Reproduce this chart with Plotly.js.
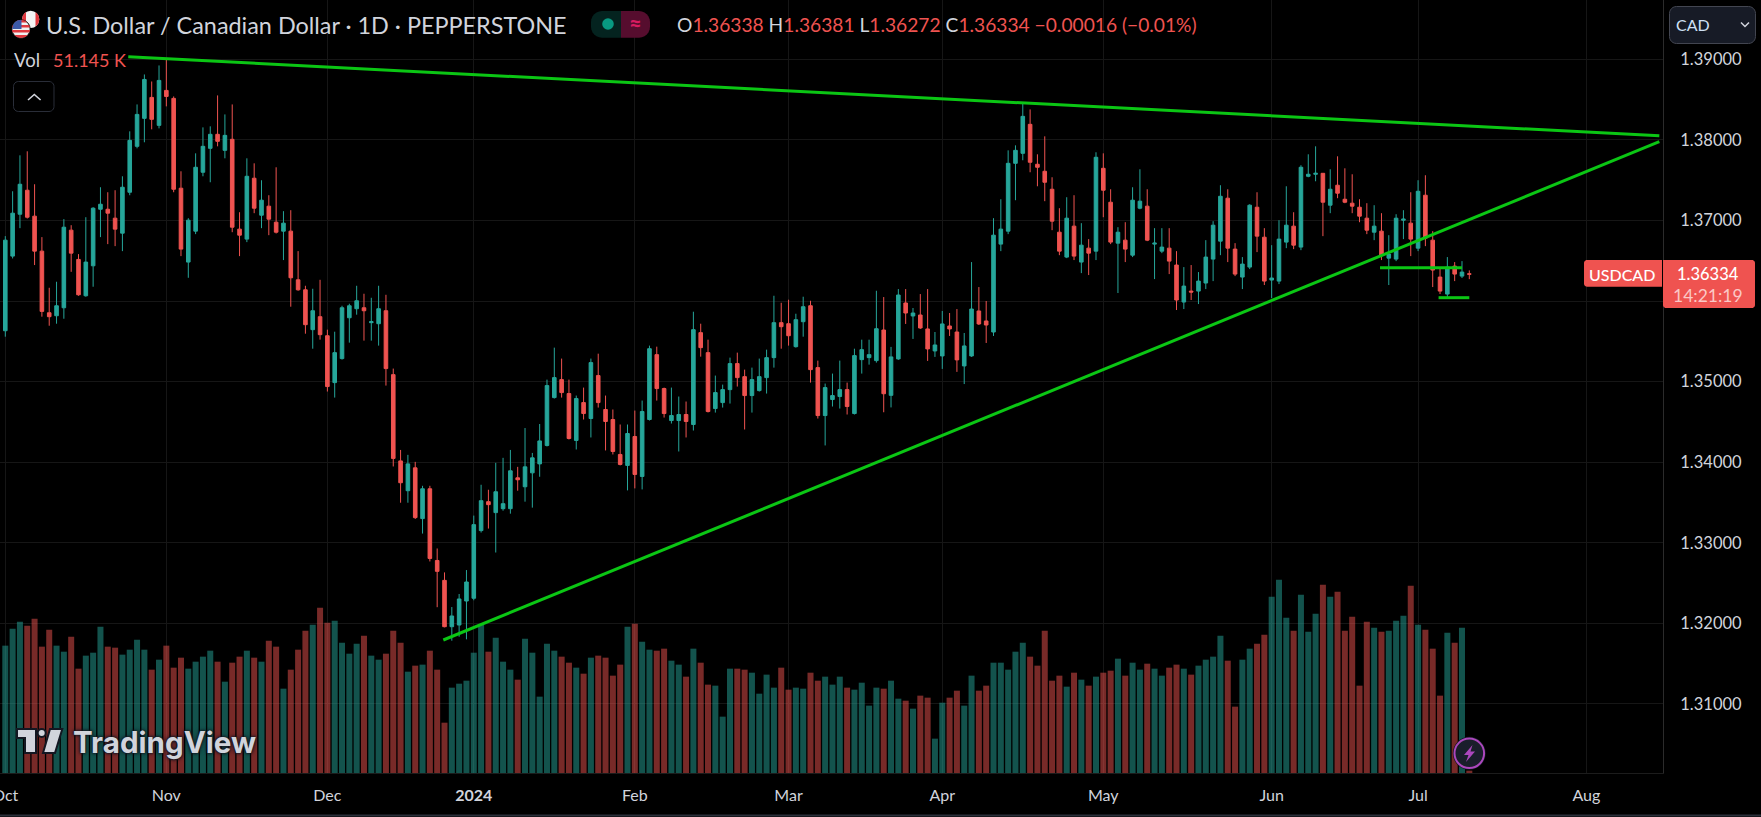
<!DOCTYPE html>
<html><head><meta charset="utf-8">
<script src="https://cdn.plot.ly/plotly-3.0.1.min.js"></script>
<style>html,body{margin:0;padding:0;background:#000;overflow:hidden}#c{width:1761px;height:817px}</style>
</head><body><div id="c"></div>
<script>
const opens=[1.35632,1.36558,1.37078,1.37376,1.37054,1.36620,1.35855,1.35818,1.35917,1.36880,
1.36517,1.36066,1.36438,1.37140,1.37140,1.37029,1.36843,1.37351,1.37921,1.38268,
1.38528,1.38181,1.38615,1.38516,1.37401,1.36484,1.36868,1.37599,1.37896,1.38070,
1.37871,1.38008,1.36893,1.36769,1.37525,1.37066,1.37178,1.36979,1.36868,1.36868,
1.36264,1.36140,1.35645,1.35806,1.35570,1.34988,1.35286,1.35793,1.35905,1.35917,
1.35732,1.35719,1.35880,1.35087,1.34016,1.33646,1.33930,1.33300,1.33670,1.32780,
1.32533,1.31958,1.31979,1.32277,1.32311,1.33151,1.33510,1.33374,1.33423,1.33423,
1.33806,1.33695,1.33868,1.33979,1.34208,1.34802,1.35025,1.34852,1.34270,1.34740,
1.34542,1.35075,1.34654,1.34530,1.34096,1.33960,1.34319,1.33823,1.34530,1.35335,
1.34914,1.34517,1.34517,1.34592,1.34468,1.35608,1.35360,1.34666,1.34740,1.34901,
1.35224,1.35062,1.34827,1.34889,1.35050,1.35298,1.35732,1.35719,1.35434,1.35744,
1.35942,1.35174,1.34579,1.34778,1.34815,1.34901,1.34604,1.35273,1.35298,1.35261,
1.35641,1.34830,1.35282,1.35976,1.35815,1.35827,1.35654,1.35381,1.35319,1.35691,
1.35616,1.35195,1.35319,1.35877,1.35753,1.35616,1.36707,1.36868,1.37710,1.37834,
1.38194,1.37698,1.37611,1.37388,1.36855,1.36546,1.36930,1.36484,1.36657,1.36620,
1.37648,1.37227,1.36719,1.36756,1.36570,1.37153,1.37178,1.36707,1.36620,1.36657,
1.36447,1.35988,1.36124,1.36124,1.36224,1.36521,1.36744,1.37277,1.36645,1.36298,
1.36422,1.37165,1.36793,1.36261,1.36248,1.36732,1.36930,1.36670,1.37549,1.37574,
1.37586,1.37190,1.37438,1.37264,1.37215,1.37165,1.37029,1.36855,1.36868,1.36533,
1.36521,1.37004,1.36967,1.36657,1.37314,1.36756,1.36298,1.36087,1.36434,1.36310,1.36338];
const highs=[1.36806,1.37363,1.37809,1.37859,1.37450,1.36794,1.36165,1.36240,1.37017,1.36942,
1.36583,1.37041,1.37165,1.37413,1.37351,1.37376,1.37549,1.38107,1.38441,1.38813,
1.38726,1.38925,1.38995,1.38540,1.37611,1.37029,1.37834,1.38156,1.38169,1.38553,
1.38317,1.38441,1.37103,1.37772,1.37710,1.37500,1.37314,1.37661,1.37116,1.37128,
1.36620,1.36190,1.36153,1.36264,1.35645,1.35620,1.35942,1.35967,1.36190,1.36091,
1.36041,1.36190,1.36078,1.35162,1.34152,1.34091,1.34004,1.33707,1.33707,1.32929,
1.32632,1.32202,1.32364,1.32661,1.33337,1.33720,1.33658,1.33992,1.34054,1.34152,
1.33942,1.34424,1.34115,1.34474,1.35025,1.35422,1.35286,1.35025,1.34827,1.34926,
1.35286,1.35347,1.34827,1.34654,1.34468,1.34468,1.34641,1.34765,1.35447,1.35434,
1.34926,1.34926,1.34815,1.34753,1.35868,1.35719,1.35521,1.35075,1.34963,1.35298,
1.35360,1.35149,1.35174,1.35286,1.35397,1.36066,1.35979,1.36017,1.35843,1.36054,
1.36004,1.35261,1.34976,1.35100,1.35261,1.34988,1.35409,1.35521,1.35521,1.36128,
1.36050,1.35431,1.36149,1.36149,1.35914,1.36087,1.36149,1.35616,1.35877,1.35852,
1.35901,1.35604,1.36484,1.36174,1.36001,1.37029,1.37264,1.37871,1.37933,1.38466,
1.38379,1.37822,1.38045,1.37537,1.37153,1.37289,1.37314,1.36967,1.36769,1.37847,
1.37834,1.37388,1.36917,1.36979,1.37413,1.37636,1.37388,1.36905,1.36905,1.36905,
1.36620,1.36422,1.36447,1.36360,1.36756,1.36992,1.37438,1.37388,1.36719,1.36546,
1.37202,1.37351,1.36905,1.36694,1.37004,1.37425,1.37103,1.37686,1.37822,1.37921,
1.37586,1.37636,1.37797,1.37648,1.37574,1.37264,1.37215,1.37190,1.37091,1.36818,
1.37078,1.37128,1.37351,1.37500,1.37562,1.36868,1.36409,1.36546,1.36484,1.36496,1.36381];
const lows=[1.35558,1.36529,1.36905,1.37025,1.36447,1.35806,1.35694,1.35719,1.35781,1.36363,
1.36066,1.36054,1.36178,1.36794,1.36707,1.36682,1.36620,1.37314,1.37896,1.37971,
1.38132,1.38144,1.38417,1.37351,1.36558,1.36289,1.36831,1.37549,1.37475,1.37921,
1.37772,1.36855,1.36558,1.36732,1.37091,1.36905,1.36818,1.36839,1.36509,1.35930,
1.36128,1.35595,1.35409,1.35521,1.34877,1.34802,1.35273,1.35484,1.35831,1.35509,
1.35509,1.35447,1.34951,1.33947,1.33497,1.33497,1.33295,1.33114,1.32768,1.32200,
1.31950,1.31784,1.31834,1.31801,1.32286,1.33127,1.33176,1.32879,1.33398,1.33361,
1.33646,1.33510,1.33436,1.33819,1.34195,1.34790,1.34802,1.34282,1.34158,1.34530,
1.34307,1.34678,1.34146,1.34096,1.33960,1.33650,1.33675,1.33662,1.34517,1.34765,
1.34554,1.34480,1.34133,1.34307,1.34393,1.35310,1.34617,1.34616,1.34678,1.34728,
1.34939,1.34406,1.34616,1.34877,1.34852,1.35174,1.35409,1.35447,1.35422,1.35558,
1.34988,1.34542,1.34208,1.34691,1.34666,1.34592,1.34592,1.35100,1.35211,1.35236,
1.34620,1.34680,1.35270,1.35716,1.35530,1.35654,1.35257,1.35307,1.35158,1.35567,
1.35121,1.34970,1.35307,1.35703,1.35480,1.35567,1.36620,1.36831,1.37252,1.37748,
1.37599,1.37425,1.37240,1.36880,1.36570,1.36533,1.36509,1.36347,1.36323,1.36509,
1.37041,1.36707,1.36100,1.36484,1.36546,1.37140,1.36744,1.36273,1.36595,1.36335,
1.35889,1.35901,1.36013,1.35963,1.36149,1.36248,1.36570,1.36484,1.36310,1.36149,
1.36397,1.36608,1.36199,1.36038,1.36211,1.36657,1.36645,1.36632,1.37537,1.37487,
1.36806,1.37091,1.37277,1.37215,1.37091,1.36979,1.36831,1.36756,1.36509,1.36199,
1.36496,1.36769,1.36558,1.36620,1.36682,1.36174,1.36087,1.36050,1.36248,1.36286,1.36272];
const closes=[1.36756,1.37091,1.37450,1.37041,1.36620,1.35872,1.35806,1.35942,1.36917,1.36595,
1.36078,1.36484,1.37153,1.37202,1.37091,1.36893,1.37413,1.37995,1.38317,1.38751,
1.38256,1.38739,1.38540,1.37388,1.36645,1.37004,1.37661,1.37921,1.38070,1.37983,
1.38057,1.36917,1.36818,1.37549,1.37153,1.37252,1.37017,1.36855,1.36967,1.36289,
1.36140,1.35707,1.35880,1.35583,1.34939,1.35360,1.35917,1.35942,1.36004,1.35880,
1.35744,1.35905,1.35162,1.34047,1.33745,1.33979,1.33312,1.33670,1.32805,1.32645,
1.31958,1.32091,1.32302,1.32513,1.33225,1.33522,1.33473,1.33633,1.33485,1.33893,
1.33782,1.33942,1.34054,1.34264,1.34951,1.35050,1.34864,1.34294,1.34790,1.34604,
1.35236,1.34740,1.34505,1.34133,1.33972,1.34356,1.33848,1.34629,1.35409,1.34914,
1.34604,1.34579,1.34592,1.34505,1.35645,1.35422,1.34629,1.34864,1.34901,1.35224,
1.35050,1.34827,1.35025,1.35062,1.35298,1.35732,1.35682,1.35570,1.35769,1.35930,
1.35149,1.34579,1.34926,1.34827,1.34901,1.34691,1.35323,1.35397,1.35335,1.35657,
1.34850,1.35307,1.36075,1.35852,1.35852,1.35666,1.35406,1.35455,1.35716,1.35654,
1.35270,1.35443,1.35901,1.35716,1.35703,1.36818,1.36893,1.37710,1.37871,1.38293,
1.37723,1.37661,1.37475,1.36992,1.36620,1.37029,1.36558,1.36694,1.36595,1.37785,
1.37376,1.36732,1.36855,1.36645,1.37252,1.37240,1.36756,1.36719,1.36670,1.36496,
1.36013,1.36186,1.36112,1.36248,1.36546,1.36942,1.37301,1.36657,1.36335,1.36459,
1.37190,1.36806,1.36248,1.36286,1.36769,1.36942,1.36694,1.37661,1.37574,1.37586,
1.37227,1.37388,1.37339,1.37227,1.37178,1.37054,1.36880,1.36930,1.36570,1.36583,
1.37029,1.37017,1.36769,1.37363,1.36781,1.36385,1.36124,1.36422,1.36335,1.36360,1.36334];
const volumesK=[2789,3161,3314,3227,3380,2767,3139,2789,2657,2986,
2285,2570,2635,3205,2767,2745,2592,2701,2920,2701,
2263,2482,2789,2307,2526,2285,2438,2548,2679,2438,
2000,2416,2548,2679,2526,2438,2898,2767,1847,2263,
2701,3117,3249,3621,3292,3336,2854,2613,2832,3008,
2570,2482,2613,3117,2854,2219,2351,2373,2679,2263,
1102,1869,1956,2022,2635,3249,2657,2964,2438,2263,
2044,2942,2635,1672,2832,2679,2548,2416,2307,2175,
2526,2570,2526,2132,2373,3205,3270,2876,2701,2679,
2723,2460,2373,2110,2723,2416,1935,1913,1234,2285,
2285,2263,2197,1737,2154,1869,2307,1825,1869,1847,
2197,2022,2110,1935,2110,1869,1825,1978,1475,1869,
1847,2022,1628,1584,1409,1694,1650,752,1540,1650,
1803,1475,2132,1803,1913,2416,2416,2263,2657,2854,
2548,2351,3117,2022,2132,1891,2197,2044,1913,2110,
2197,2241,2504,2132,2416,2263,2394,2285,2132,2307,
2373,2285,2154,2351,2482,2548,3008,2460,1453,2482,
2723,2832,3030,3862,4234,3402,3117,3906,3095,3489,
4125,3862,3971,3117,3424,1913,3314,3183,3095,3117,
3336,3446,4103,3249,3139,2723,1694,3073,2854,3183,51.145];

const monthLabels=['Oct','Nov','Dec','<b>2024</b>','Feb','Mar','Apr','May','Jun','Jul','Aug'];
const monthBars=[0,22,44,64,86,107,128,150,173,193,216];
const priceTicks=[1.31,1.32,1.33,1.34,1.35,1.36,1.37,1.38,1.39];
const priceTickLabels=['1.31000','1.32000','1.33000','1.34000','1.35000','','1.37000','1.38000','1.39000'];
const resistanceBars=[16.8,225.96], resistancePrices=[1.39034,1.38051];
const supportBars=[59.84,225.96], supportPrices=[1.31793,1.37979];
const levelABars=[187.8,199], levelAPrices=[1.36414,1.36414];
const levelBBars=[195.8,200], levelBPrices=[1.36042,1.36042];

const W=1761,H=817,PL=1663,PB=773;
const FONT='Lato, "Open Sans", sans-serif';
const UP='#26a69a',DOWN='#ef5350',TXT='#d1d4dc',TREND='#0bc614';
const bars=opens.map((_,i)=>i);
const fx=x=>x/PL, fy=y=>1-y/PB;
const poly=(pts,close=true)=>pts.map((p,i)=>(i?'L':'M')+fx(p[0]).toFixed(5)+','+fy(p[1]).toFixed(5)).join('')+(close?'Z':'');
function rr(x0,y0,x1,y1,r,rs=[1,1,1,1]){const pts=[];const arc=(cx,cy,a0,on)=>{if(!on){pts.push([cx+Math.cos(a0+Math.PI/4)*r*Math.SQRT2,cy+Math.sin(a0+Math.PI/4)*r*Math.SQRT2]);return;}for(let k=0;k<=6;k++){const a=a0+k/6*Math.PI/2;pts.push([cx+r*Math.cos(a),cy+r*Math.sin(a)]);}};
 arc(x0+r,y0+r,Math.PI,rs[0]);arc(x1-r,y0+r,-Math.PI/2,rs[1]);arc(x1-r,y1-r,0,rs[2]);arc(x0+r,y1-r,Math.PI/2,rs[3]);return poly(pts);}
function band(cx,cy,r,y0,y1){const L=[],R=[];for(let k=0;k<=8;k++){const y=y0+(y1-y0)*k/8;const w=Math.sqrt(Math.max(0,r*r-(y-cy)*(y-cy)));L.push([cx-w,y]);R.unshift([cx+w,y]);}return poly(L.concat(R));}
function vband(cx,cy,r,x0,x1){const T=[],B=[];for(let k=0;k<=8;k++){const x=x0+(x1-x0)*k/8;const h=Math.sqrt(Math.max(0,r*r-(x-cx)*(x-cx)));T.push([x,cy-h]);B.unshift([x,cy+h]);}return poly(T.concat(B));}
const fill=(path,color,line)=>({type:'path',xref:'paper',yref:'paper',path,fillcolor:color,line:line||{width:0},layer:'above'});
const stroke=(pts,color,w)=>({type:'path',xref:'paper',yref:'paper',path:poly(pts,false),line:{color,width:w},layer:'above'});
const disc=(cx,cy,r,color,line)=>({type:'circle',xref:'paper',yref:'paper',x0:fx(cx-r),x1:fx(cx+r),y0:fy(cy+r),y1:fy(cy-r),fillcolor:color,line:line||{width:0},layer:'above'});

const shapes=[
 // flags
 disc(30.7,19.3,8.6,'#f4f4f4'),
 fill(vband(30.7,19.3,8.6,22.1,26),'#e0383e'),
 fill(vband(30.7,19.3,8.6,35.5,39.3),'#e0383e'),
 disc(21,29,9.2,'#f0f0f0',{color:'#000',width:1}),
 fill(band(21,29,9,20,22.5),'#e0383e'),fill(band(21,29,9,25,27.5),'#e0383e'),fill(band(21,29,9,30,32.5),'#e0383e'),fill(band(21,29,9,35,38),'#e0383e'),
 fill(poly([[13.5,24],[15,22],[18,20.3],[21.5,20],[21.5,29],[12.2,29]]),'#3c5aa8'),
 // status pill
 fill(rr(591,11,621,37.7,11,[1,0,0,1]),'#04231f'),
 fill(rr(621,11,650,37.7,11,[0,1,1,0]),'#560d2e'),
 disc(608,24,5.8,'#089981'),
 // collapse button
 fill(rr(13.5,81.5,54,111.5,5),'#000',{color:'#2a2e39',width:1}),
 stroke([[28,100],[34.3,94.5],[40.6,100]],TXT,1.6),
 // currency button
 fill(rr(1669.5,6.5,1755.5,43.5,7),'#171b26',{color:'#434651',width:1}),
 stroke([[1741,22.5],[1745,26.5],[1749,22.5]],TXT,1.5),
 // price tag
 fill(rr(1584,260,1662,286.7,3,[1,0,0,1]),DOWN),
 fill(rr(1663,260,1755,308,3,[0,1,1,1]),DOWN),
 // TradingView mark
 fill(poly([[17,729],[36,729],[36,753],[25,753],[25,738],[17,738]]),TXT,{color:'#131722',width:2}),
 disc(41.7,733,4,TXT,{color:'#131722',width:2}),
 fill(poly([[50,729],[62.3,729],[55,753],[43,753]]),TXT,{color:'#131722',width:2}),
 // bolt button
 disc(1469.3,753.3,16.5,'#131722'),
 disc(1469.3,753.3,14.8,'#1a1e2b',{color:'#ab47bc',width:2}),
 fill(poly([[1472.5,745],[1464,755],[1468.5,755],[1466,762],[1475,751.5],[1470.5,751.5]]),'#ab47bc'),
 // bottom border
 {type:'line',xref:'paper',yref:'paper',x0:0,x1:W/PL,y0:fy(815.5),y1:fy(815.5),line:{color:'#2a2e39',width:2},layer:'above'}
];
const note=(text,x,y,size,color,anchor='left',extra={})=>({text,xref:'paper',yref:'paper',x:fx(x),y:fy(y),xanchor:anchor,yanchor:'middle',showarrow:false,align:anchor,font:Object.assign({family:FONT,size,color},extra)});
const r=t=>`<span style="color:${DOWN}">${t}</span>`;
const annotations=[
 note('U.S. Dollar / Canadian Dollar · 1D · PEPPERSTONE',44,25,23.4,TXT),
 note('O'+r('1.36338')+' H'+r('1.36381')+' L'+r('1.36272')+' C'+r('1.36334')+' '+r('−0.00016 (−0.01%)'),675,25,19.2,TXT),
 note('≈',635,24,22,'#d81b60','center',{weight:700}),
 note('Vol',12,60,18.5,TXT),
 note('51.145 K',51,60,18,DOWN),
 note('CAD',1674,25,16,'#cfe0f5'),
 note('USDCAD',1622,274,16,'#ffffff','center',{weight:500}),
 note('1.36334',1708,274,16.5,'#ffffff','center',{weight:500}),
 note('14:21:19',1708,295,17.5,'#fbc8c6','center'),
 note('TradingView',71,742,29.6,TXT,'left',{family:'Inter, Roboto, sans-serif',weight:700,shadow:'0 0 2px #131722, 0 0 3px #131722, 0 0 4px #131722'})
];
const trend=(x,y,w=3)=>({type:'scatter',mode:'lines',x,y,yaxis:'y2',hoverinfo:'skip',line:{color:TREND,width:w}});
const data=[
 {type:'bar',x:bars,y:volumesK,width:0.82,hoverinfo:'skip',marker:{color:bars.map(i=>closes[i]>=opens[i]?'rgba(38,166,154,0.5)':'rgba(239,83,80,0.5)'),line:{width:0}}},
 {type:'candlestick',x:bars,open:opens,high:highs,low:lows,close:closes,yaxis:'y2',hoverinfo:'skip',whiskerwidth:0,
  increasing:{line:{color:UP,width:1},fillcolor:UP},decreasing:{line:{color:DOWN,width:1},fillcolor:DOWN}},
 trend(resistanceBars,resistancePrices),trend(supportBars,supportPrices),trend(levelABars,levelAPrices),trend(levelBBars,levelBPrices)
];
const layout={
 width:W,height:H,margin:{l:0,r:W-PL,t:0,b:H-PB},paper_bgcolor:'#000',plot_bgcolor:'#000',showlegend:false,boxgap:0.3,
 xaxis:{range:[-0.724,226.46],tickmode:'array',tickvals:monthBars,ticktext:monthLabels,ticks:'outside',ticklen:8,tickcolor:'rgba(0,0,0,0)',ticklabeloverflow:'allow',
  tickfont:{family:FONT,size:16,color:TXT},showgrid:true,gridcolor:'#161616',gridwidth:1,zeroline:false,rangeslider:{visible:false},showline:true,linecolor:'#1c1c1c',fixedrange:true},
 yaxis:{range:[0,16930],visible:false,showgrid:false,zeroline:false,fixedrange:true},
 yaxis2:{overlaying:'y',side:'right',range:[1.301419,1.397373],tickmode:'array',tickvals:priceTicks,ticktext:priceTickLabels,ticks:'outside',ticklen:13,tickcolor:'rgba(0,0,0,0)',
  tickfont:{family:FONT,size:16.5,color:TXT},showgrid:true,gridcolor:'#161616',gridwidth:1,zeroline:false,showline:true,linecolor:'#2b2b2b',fixedrange:true},
 shapes,annotations
};
Plotly.newPlot('c',data,layout,{displayModeBar:false,staticPlot:true});
</script></body></html>
